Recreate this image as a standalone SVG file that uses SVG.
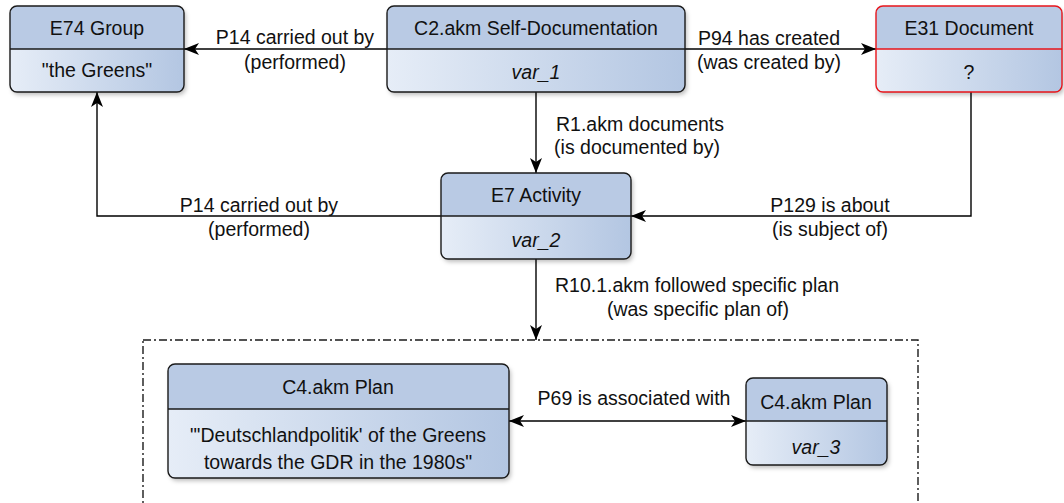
<svg xmlns="http://www.w3.org/2000/svg" width="1064" height="503" viewBox="0 0 1064 503">
<defs>
<linearGradient id="body" x1="0" y1="0" x2="1" y2="0">
<stop offset="0" stop-color="#e6edf7"/>
<stop offset="1" stop-color="#b3c6e2"/>
</linearGradient>
<filter id="sh" x="-10%" y="-10%" width="125%" height="130%">
<feDropShadow dx="2" dy="3" stdDeviation="2" flood-color="#000" flood-opacity="0.25"/>
</filter>
<marker id="arr" viewBox="0 0 15 12" refX="15" refY="6" markerWidth="15" markerHeight="12" markerUnits="userSpaceOnUse" orient="auto-start-reverse">
<path d="M0,0 L15,6 L0,12 L4,6 Z" fill="#000"/>
</marker>
</defs>
<style>
text{font-family:"Liberation Sans",Arial,sans-serif;font-size:19.5px;fill:#111;text-anchor:middle}
.it{font-style:italic}
.hd{fill:#b9cae4}
.bd{fill:url(#body)}
.fr{fill:none;stroke:#1a1a1a;stroke-width:1.4}
.red{stroke:#e8141a}
.ln{fill:none;stroke:#000;stroke-width:1.4}
</style>
<rect width="1064" height="503" fill="#fff"/>
<g id="group-box">
<rect x="143" y="340" width="775" height="200" fill="#fff" stroke="#1a1a1a" stroke-width="1.4" stroke-dasharray="8 3 2 3"/>
</g>
<g id="connectors">
<path class="ln" d="M387,49 H184" marker-end="url(#arr)"/>
<path class="ln" d="M685,49 H876" marker-end="url(#arr)"/>
<path class="ln" d="M536,92 V173" marker-end="url(#arr)"/>
<path class="ln" d="M441,216 H97 V92" marker-end="url(#arr)"/>
<path class="ln" d="M971,92 V216 H631" marker-end="url(#arr)"/>
<path class="ln" d="M536,259 V340" marker-end="url(#arr)"/>
<path class="ln" d="M509,421 H746" marker-start="url(#arr)" marker-end="url(#arr)"/>
<text x="295" y="44">P14 carried out by</text>
<text x="295" y="69">(performed)</text>
<text x="769" y="45">P94 has created</text>
<text x="769" y="69">(was created by)</text>
<text x="640" y="131">R1.akm documents</text>
<text x="637" y="154">(is documented by)</text>
<text x="259" y="212">P14 carried out by</text>
<text x="259" y="236">(performed)</text>
<text x="830" y="212">P129 is about</text>
<text x="830" y="236">(is subject of)</text>
<text x="697" y="292">R10.1.akm followed specific plan</text>
<text x="698" y="316">(was specific plan of)</text>
<text x="634" y="405">P69 is associated with</text>
</g>
<g id="e74">
<g filter="url(#sh)"><rect x="10" y="6" width="174" height="86" rx="7" class="bd"/></g>
<path d="M10,49 V13 a7,7 0 0 1 7,-7 H177 a7,7 0 0 1 7,7 V49 Z" class="hd"/>
<rect x="10" y="6" width="174" height="86" rx="7" class="fr"/>
<path d="M10,49 H184" class="fr"/>
<text x="97" y="35">E74 Group</text>
<text x="97" y="77">"the Greens"</text>
</g>
<g id="c2">
<g filter="url(#sh)"><rect x="387" y="6" width="298" height="86" rx="7" class="bd"/></g>
<path d="M387,49 V13 a7,7 0 0 1 7,-7 H678 a7,7 0 0 1 7,7 V49 Z" class="hd"/>
<rect x="387" y="6" width="298" height="86" rx="7" class="fr"/>
<path d="M387,49 H685" class="fr"/>
<text x="536" y="35">C2.akm Self-Documentation</text>
<text x="536" y="79" class="it">var_1</text>
</g>
<g id="e31">
<g filter="url(#sh)"><rect x="876" y="6" width="186" height="86" rx="7" class="bd"/></g>
<path d="M876,49 V13 a7,7 0 0 1 7,-7 H1055 a7,7 0 0 1 7,7 V49 Z" class="hd"/>
<rect x="876" y="6" width="186" height="86" rx="7" class="fr red"/>
<path d="M876,49 H1062" class="fr red"/>
<text x="969" y="35">E31 Document</text>
<text x="969" y="79">?</text>
</g>
<g id="e7">
<g filter="url(#sh)"><rect x="441" y="173" width="190" height="86" rx="7" class="bd"/></g>
<path d="M441,216 V180 a7,7 0 0 1 7,-7 H624 a7,7 0 0 1 7,7 V216 Z" class="hd"/>
<rect x="441" y="173" width="190" height="86" rx="7" class="fr"/>
<path d="M441,216 H631" class="fr"/>
<text x="536" y="202">E7 Activity</text>
<text x="536" y="247" class="it">var_2</text>
</g>
<g id="c4-plan">
<g filter="url(#sh)"><rect x="168" y="364" width="341" height="114" rx="7" class="bd"/></g>
<path d="M168,409 V371 a7,7 0 0 1 7,-7 H502 a7,7 0 0 1 7,7 V409 Z" class="hd"/>
<rect x="168" y="364" width="341" height="114" rx="7" class="fr"/>
<path d="M168,409 H509" class="fr"/>
<text x="338" y="394">C4.akm Plan</text>
<text x="338" y="442">"'Deutschlandpolitik' of the Greens</text>
<text x="338" y="469">towards the GDR in the 1980s"</text>
</g>
<g id="c4-var3">
<g filter="url(#sh)"><rect x="746" y="378" width="141" height="87" rx="7" class="bd"/></g>
<path d="M746,421 V385 a7,7 0 0 1 7,-7 H880 a7,7 0 0 1 7,7 V421 Z" class="hd"/>
<rect x="746" y="378" width="141" height="87" rx="7" class="fr"/>
<path d="M746,421 H887" class="fr"/>
<text x="816" y="409">C4.akm Plan</text>
<text x="816" y="454" class="it">var_3</text>
</g>
</svg>
